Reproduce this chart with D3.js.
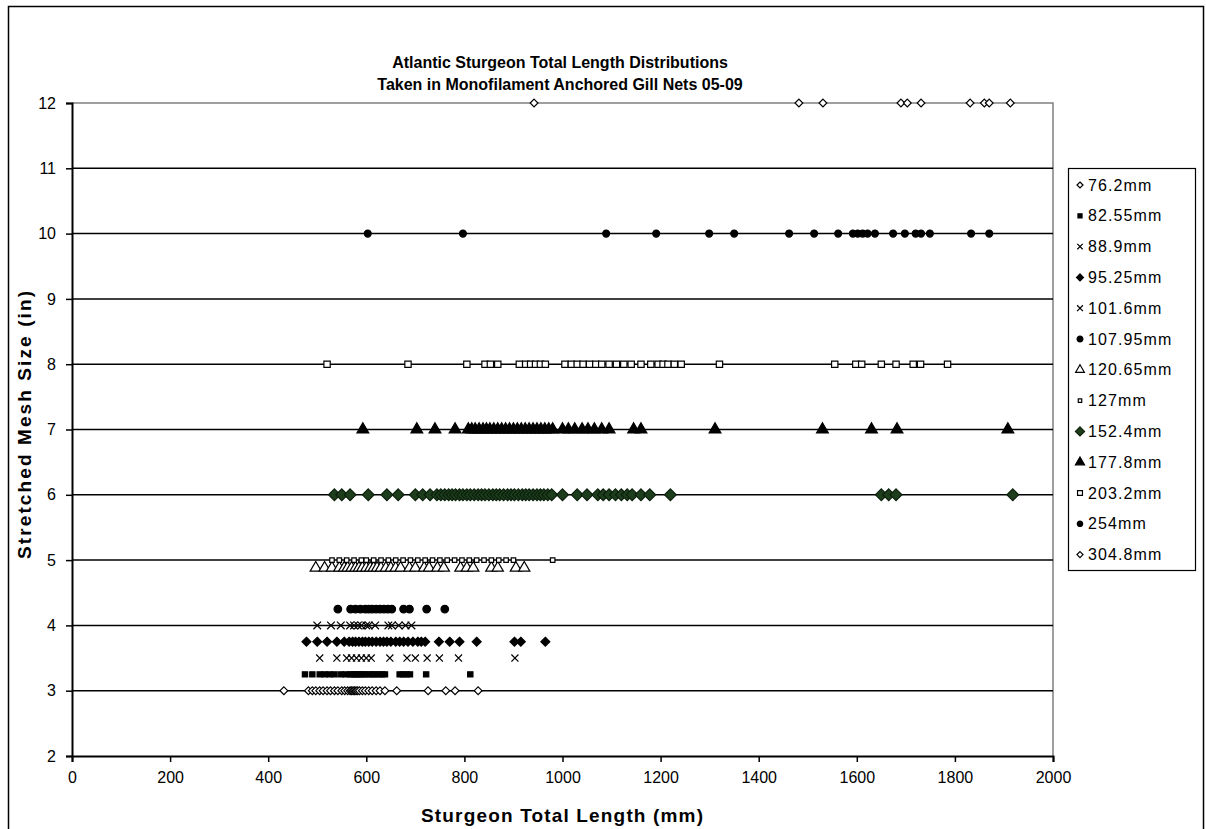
<!DOCTYPE html>
<html>
<head>
<meta charset="utf-8">
<script src="https://cdn.jsdelivr.net/npm/d3@7"></script>
<style>
  body { margin: 0; background: #fff; }
  svg { display: block; font-family: Arial, "Liberation Sans", sans-serif; }
</style>
</head>
<body>
<div id="chart"></div>
<script>
// mesh sizes (legend labels) and their stretched size in inches
const meshLabels = ["76.2mm", "82.55mm", "88.9mm", "95.25mm", "101.6mm", "107.95mm", "120.65mm",
  "127mm", "152.4mm", "177.8mm", "203.2mm", "254mm", "304.8mm"];
const meshInches = [3, 3.25, 3.5, 3.75, 4, 4.25, 4.88, 5, 6, 7, 8, 10, 12];

// sturgeon total lengths (mm) per mesh
const len76 = [432, 482, 490, 497, 505, 512, 520, 527, 535, 542, 550, 556, 562, 567, 570, 573, 576, 579,
  582, 586, 592, 598, 605, 612, 620, 628, 638, 662, 726, 762, 781, 828];
const len82 = [475, 490, 505, 515, 525, 535, 548, 558, 567, 572, 577, 582, 587, 592, 598, 605, 612, 618,
  625, 632, 638, 668, 675, 682, 689, 722, 812];
const len88 = [505, 540, 560, 570, 580, 590, 600, 610, 648, 683, 700, 724, 749, 788, 903];
const len95 = [478, 500, 520, 540, 555, 565, 572, 578, 585, 592, 598, 605, 612, 620, 628, 635, 642, 650,
  660, 668, 676, 685, 695, 705, 712, 720, 748, 770, 790, 825, 902, 915, 965];
const len101 = [500, 528, 548, 567, 575, 583, 590, 600, 605, 618, 645, 652, 666, 680, 692];
const len107 = [542, 568, 578, 588, 598, 605, 612, 620, 628, 636, 644, 652, 676, 688, 723, 760];
const len120 = [497, 515, 530, 545, 555, 562, 570, 578, 585, 592, 600, 608, 615, 622, 630, 640, 650, 660,
  670, 688, 700, 718, 728, 745, 758, 792, 805, 818, 855, 868, 905, 922];
const len127 = [530, 545, 560, 575, 590, 600, 615, 630, 645, 660, 675, 690, 705, 720, 735, 750, 765, 780,
  795, 810, 825, 840, 855, 870, 885, 900, 980];
const len152 = [535, 550, 567, 604, 642, 665, 700, 715, 730, 744, 752, 760, 768, 775, 782, 790, 797, 805,
  812, 820, 828, 835, 842, 850, 858, 865, 872, 880, 888, 895, 902, 910, 918, 925, 932, 940, 948, 955, 962,
  970, 978, 1000, 1030, 1050, 1072, 1083, 1095, 1108, 1120, 1132, 1142, 1160, 1178, 1220, 1650, 1665, 1680, 1918];
const len177 = [593, 703, 740, 781, 808, 815, 822, 830, 838, 845, 852, 860, 868, 876, 884, 892, 900, 908,
  916, 924, 932, 940, 948, 956, 964, 972, 980, 1000, 1012, 1025, 1040, 1052, 1065, 1080, 1095, 1145, 1160,
  1311, 1530, 1630, 1682, 1908];
const len203 = [520, 685, 805, 842, 853, 868, 912, 925, 935, 945, 955, 965, 1005, 1018, 1030, 1042, 1055,
  1068, 1080, 1095, 1110, 1125, 1140, 1160, 1180, 1195, 1205, 1215, 1228, 1242, 1320, 1555, 1598, 1610,
  1650, 1680, 1715, 1730, 1785];
const len254 = [603, 797, 1089, 1191, 1299, 1350, 1462, 1513, 1562, 1592, 1602, 1612, 1622, 1637, 1674,
  1698, 1720, 1731, 1749, 1833, 1870];
const len304 = [942, 1482, 1531, 1690, 1703, 1731, 1831, 1860, 1870, 1913];

const lengths = [len76, len82, len88, len95, len101, len107, len120, len127, len152, len177, len203, len254, len304];

const xTicks = [0, 200, 400, 600, 800, 1000, 1200, 1400, 1600, 1800, 2000];
const yTicks = [2, 3, 4, 5, 6, 7, 8, 9, 10, 11, 12];

// square diamond, like the excel marker
const symDiamond = {
  draw(ctx, size) {
    const r = Math.sqrt(size / 2);
    ctx.moveTo(0, -r);
    ctx.lineTo(r, 0);
    ctx.lineTo(0, r);
    ctx.lineTo(-r, 0);
    ctx.closePath();
  }
};
const symX = d3.symbolTimes || d3.symbolX || d3.symbolCross;

// marker styles, one per series
const styles = [
  { type: symDiamond, size: 30, fill: "#fff", stroke: "#000" },
  { type: d3.symbolSquare, size: 28, fill: "#000", stroke: "#000" },
  { type: symX, size: 34, fill: "none", stroke: "#000" },
  { type: symDiamond, size: 40, fill: "#000", stroke: "#000" },
  { type: symX, size: 40, fill: "none", stroke: "#000" },
  { type: d3.symbolCircle, size: 45, fill: "#000", stroke: "#000" },
  { type: d3.symbolTriangle, size: 55, fill: "#fff", stroke: "#000" },
  { type: d3.symbolSquare, size: 20, fill: "#fff", stroke: "#000" },
  { type: symDiamond, size: 70, fill: "#1d3d1d", stroke: "#0b1f0b" },
  { type: d3.symbolTriangle, size: 60, fill: "#000", stroke: "#000" },
  { type: d3.symbolSquare, size: 40, fill: "#fff", stroke: "#000" },
  { type: d3.symbolCircle, size: 38, fill: "#000", stroke: "#000" },
  { type: symDiamond, size: 30, fill: "#fff", stroke: "#000" }
];

const W = 1206, H = 829;
const plot = { left: 72, right: 1053, top: 103, bottom: 756 };

const svg = d3.select("#chart").append("svg")
  .attr("width", W)
  .attr("height", H);

// outer chart frame
svg.append("rect")
  .attr("x", 8.5).attr("y", 6.5)
  .attr("width", 1195).attr("height", 840)
  .attr("fill", "#fff").attr("stroke", "#000").attr("stroke-width", 1.5);

const x = d3.scaleLinear().domain([0, 2000]).range([plot.left, plot.right]);
const y = d3.scaleLinear().domain([2, 12]).range([plot.bottom, plot.top]);

// plot area border (grey, right and top)
svg.append("path")
  .attr("d", `M${plot.left},${plot.top}H${plot.right}V${plot.bottom}`)
  .attr("fill", "none").attr("stroke", "#808080").attr("stroke-width", 1.5);

// gridlines
svg.append("g")
  .selectAll("line")
  .data(yTicks.filter(d => d > 2 && d < 12))
  .join("line")
  .attr("x1", plot.left).attr("x2", plot.right)
  .attr("y1", d => y(d)).attr("y2", d => y(d))
  .attr("stroke", "#000").attr("stroke-width", 1.5);

// series
lengths.forEach(function (vals, i) {
  const st = styles[i];
  const sym = d3.symbol().type(st.type).size(st.size);
  svg.append("g")
    .selectAll("path")
    .data(vals)
    .join("path")
    .attr("d", sym)
    .attr("transform", d => `translate(${x(d)},${y(meshInches[i])})`)
    .attr("fill", st.fill)
    .attr("stroke", st.stroke)
    .attr("stroke-width", 1.2);
});

// x axis
const xAxis = svg.append("g")
  .attr("transform", `translate(0,${plot.bottom})`)
  .call(d3.axisBottom(x).tickValues(xTicks).tickFormat(d3.format("d")).tickSize(6).tickPadding(10));
xAxis.select(".domain").attr("stroke-width", 2);
xAxis.selectAll(".tick line").attr("stroke-width", 1.5);
xAxis.selectAll("text").attr("font-size", 16).attr("fill", "#000");

// y axis
const yAxis = svg.append("g")
  .attr("transform", `translate(${plot.left},0)`)
  .call(d3.axisLeft(y).tickValues(yTicks).tickSize(6).tickPadding(10));
yAxis.select(".domain").attr("stroke-width", 2);
yAxis.selectAll(".tick line").attr("stroke-width", 1.5);
yAxis.selectAll("text").attr("font-size", 16).attr("fill", "#000");

// titles
const title = svg.append("text")
  .attr("text-anchor", "middle")
  .attr("font-weight", "bold").attr("font-size", 16);
title.append("tspan").attr("x", 560).attr("y", 68).text("Atlantic Sturgeon Total Length Distributions");
title.append("tspan").attr("x", 560).attr("y", 90).text("Taken in Monofilament Anchored Gill Nets 05-09");

svg.append("text")
  .attr("x", 562).attr("y", 822)
  .attr("text-anchor", "middle")
  .attr("font-weight", "bold").attr("font-size", 19)
  .attr("textLength", 282).attr("lengthAdjust", "spacing")
  .text("Sturgeon Total Length (mm)");

svg.append("text")
  .attr("transform", "translate(31,425) rotate(-90)")
  .attr("text-anchor", "middle")
  .attr("font-weight", "bold").attr("font-size", 19)
  .attr("textLength", 268).attr("lengthAdjust", "spacing")
  .text("Stretched Mesh Size (in)");

// legend
const legend = svg.append("g");
legend.append("rect")
  .attr("x", 1068.5).attr("y", 168.5)
  .attr("width", 127).attr("height", 402)
  .attr("fill", "#fff").attr("stroke", "#000").attr("stroke-width", 1.2);

const item = legend.selectAll("g.item")
  .data(meshLabels)
  .join("g")
  .attr("class", "item")
  .attr("transform", (d, i) => `translate(1080,${185 + i * 30.8})`);

item.append("path")
  .attr("d", (d, i) => d3.symbol().type(styles[i].type).size(styles[i].size * 0.6)())
  .attr("fill", (d, i) => styles[i].fill)
  .attr("stroke", (d, i) => styles[i].stroke)
  .attr("stroke-width", 1.2);

item.append("text")
  .attr("x", 8).attr("dy", "0.35em")
  .attr("font-size", 16)
  .attr("letter-spacing", 1.1)
  .text(d => d);
</script>
</body>
</html>
